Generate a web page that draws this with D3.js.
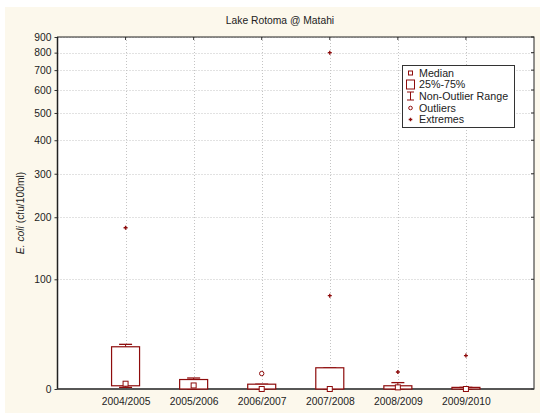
<!DOCTYPE html>
<html>
<head>
<meta charset="utf-8">
<script src="https://cdn.jsdelivr.net/npm/d3@7"></script>
<style>
  html, body { margin: 0; padding: 0; background: #ffffff; }
  svg { display: block; font-family: "Liberation Sans", Arial, sans-serif; }
</style>
</head>
<body>
<svg id="chart" width="540" height="413"></svg>
<script>
// E. coli counts per season (cfu/100ml)
const categories = ["2004/2005", "2005/2006", "2006/2007", "2007/2008", "2008/2009", "2009/2010"];
const whiskerLow  = [1, 0, 0, 0, 0, 0];
const q1          = [2, 0, 0, 0, 0, 0];
const medians     = [3.3, 2.2, 0, 0, 1, 0];
const q3          = [30, 6, 3, 14, 2, 1];
const whiskerHigh = [32, 7, 3, 14, 4, 1];
const outliers    = [[], [], [10], [], [], []];
const extremes    = [[180], [], [], [80, 800], [11], [23]];
const yTicks      = [0, 100, 200, 300, 400, 500, 600, 700, 800, 900];
const legendItems = ["Median", "25%-75%", "Non-Outlier Range", "Outliers", "Extremes"];

const RED = "#8e0c0c";
const svg = d3.select("#chart");

// panel background
svg.append("rect").attr("x", 5).attr("y", 7).attr("width", 535).attr("height", 406).attr("fill", "#fcf8ec");

const plot = { left: 57.5, right: 534, top: 37, bottom: 389 };
svg.append("rect").attr("x", plot.left).attr("y", plot.top)
  .attr("width", plot.right - plot.left).attr("height", plot.bottom - plot.top).attr("fill", "#ffffff");

const x = d3.scalePoint().domain(categories).range([plot.left, plot.right]).padding(1);
const y = d3.scaleSymlog().constant(90).domain([0, 900]).range([plot.bottom, plot.top]);

// dotted grid
const grid = svg.append("g").attr("stroke", "#c4c4c4").attr("stroke-width", 1).attr("stroke-dasharray", "1,2");
grid.selectAll(".gy").data(yTicks.slice(1)).join("line")
  .attr("x1", plot.left).attr("x2", plot.right)
  .attr("y1", d => Math.round(y(d)) + 0.5).attr("y2", d => Math.round(y(d)) + 0.5);
grid.selectAll(".gx").data(categories).join("line")
  .attr("x1", d => Math.round(x(d)) + 0.5).attr("x2", d => Math.round(x(d)) + 0.5)
  .attr("y1", plot.top).attr("y2", plot.bottom);

// title
svg.append("text").attr("x", 280).attr("y", 24).attr("text-anchor", "middle")
  .attr("font-size", 10.3).attr("fill", "#222").text("Lake Rotoma @ Matahi");

// axes
const yAxis = d3.axisLeft(y).tickValues(yTicks).tickSize(3).tickPadding(3).tickFormat(d3.format("d"));
const gy = svg.append("g").attr("transform", `translate(${plot.left},0)`).call(yAxis);
gy.select(".domain").remove();
gy.selectAll("text").attr("font-size", 10.3).attr("fill", "#222").attr("font-family", "Liberation Sans, Arial, sans-serif");
gy.selectAll("line").attr("stroke", "#333");

const xAxis = d3.axisBottom(x).tickSize(0).tickPadding(9);
const gx = svg.append("g").attr("transform", `translate(0,${plot.bottom})`).call(xAxis);
gx.select(".domain").remove();
gx.selectAll("text").attr("font-size", 10.3).attr("fill", "#222").attr("font-family", "Liberation Sans, Arial, sans-serif");

// inner ticks on top and right edges
svg.append("g").selectAll("line").data(categories).join("line")
  .attr("x1", d => x(d)).attr("x2", d => x(d)).attr("y1", plot.top).attr("y2", plot.top + 3)
  .attr("stroke", "#333");
svg.append("g").selectAll("line").data(yTicks).join("line")
  .attr("x1", plot.right).attr("x2", plot.right - 3).attr("y1", d => y(d)).attr("y2", d => y(d))
  .attr("stroke", "#333");

// frame
svg.append("rect").attr("x", plot.left).attr("y", plot.top)
  .attr("width", plot.right - plot.left).attr("height", plot.bottom - plot.top)
  .attr("fill", "none").attr("stroke", "#222").attr("stroke-width", 1);
svg.append("line").attr("x1", plot.left).attr("x2", plot.left).attr("y1", plot.top).attr("y2", plot.bottom)
  .attr("stroke", "#222").attr("stroke-width", 1.5);
svg.append("line").attr("x1", plot.left).attr("x2", plot.right).attr("y1", plot.bottom).attr("y2", plot.bottom)
  .attr("stroke", "#444").attr("stroke-width", 1.5);

// y label
const yl = svg.append("text").attr("transform", `translate(24,213) rotate(-90)`)
  .attr("text-anchor", "middle").attr("font-size", 10.3).attr("fill", "#222");
yl.append("tspan").attr("font-style", "italic").text("E. coli");
yl.append("tspan").text(" (cfu/100ml)");

// boxes
const boxW = 28, capW = 13;
const marks = svg.append("g");
categories.forEach((c, i) => {
  const cx = x(c);
  // whiskers
  marks.append("line").attr("x1", cx).attr("x2", cx).attr("y1", y(q3[i])).attr("y2", y(whiskerHigh[i]))
    .attr("stroke", RED).attr("stroke-width", 1);
  marks.append("line").attr("x1", cx - capW / 2).attr("x2", cx + capW / 2)
    .attr("y1", y(whiskerHigh[i])).attr("y2", y(whiskerHigh[i])).attr("stroke", RED).attr("stroke-width", 1.3);
  marks.append("line").attr("x1", cx).attr("x2", cx).attr("y1", y(q1[i])).attr("y2", y(whiskerLow[i]))
    .attr("stroke", RED).attr("stroke-width", 1);
  marks.append("line").attr("x1", cx - capW / 2).attr("x2", cx + capW / 2)
    .attr("y1", y(whiskerLow[i])).attr("y2", y(whiskerLow[i])).attr("stroke", RED).attr("stroke-width", 1.3);
  // box
  marks.append("rect").attr("x", cx - boxW / 2).attr("y", y(q3[i]))
    .attr("width", boxW).attr("height", Math.max(1, y(q1[i]) - y(q3[i])))
    .attr("fill", "#ffffff").attr("stroke", RED).attr("stroke-width", 1.2);
  // median
  marks.append("rect").attr("x", cx - 2.5).attr("y", y(medians[i]) - 2.5).attr("width", 5).attr("height", 5)
    .attr("fill", "#ffffff").attr("stroke", RED).attr("stroke-width", 1);
  // outliers
  outliers[i].forEach(v => {
    marks.append("circle").attr("cx", cx).attr("cy", y(v)).attr("r", 2.2)
      .attr("fill", "#ffffff").attr("stroke", RED).attr("stroke-width", 1);
  });
  // extremes
  extremes[i].forEach(v => {
    marks.append("path").attr("d", `M${cx - 2},${y(v)}H${cx + 2}M${cx},${y(v) - 2}V${y(v) + 2}`)
      .attr("stroke", RED).attr("stroke-width", 1.4);
  });
});

// legend
const lg = svg.append("g");
lg.append("rect").attr("x", 402.5).attr("y", 65.5).attr("width", 112).attr("height", 62)
  .attr("fill", "#ffffff").attr("stroke", "#333").attr("stroke-width", 1);
const lx = 410.5, rowY = [73, 84.5, 96, 108, 119.5];
lg.selectAll("text").data(legendItems).join("text")
  .attr("x", 419).attr("y", (d, i) => rowY[i] + 3.8).attr("font-size", 10.7).attr("fill", "#222").text(d => d);
lg.append("rect").attr("x", lx - 2).attr("y", rowY[0] - 2).attr("width", 4).attr("height", 4)
  .attr("fill", "#fff").attr("stroke", RED).attr("stroke-width", 1);
lg.append("rect").attr("x", lx - 4).attr("y", rowY[1] - 4.5).attr("width", 8).attr("height", 9)
  .attr("fill", "#fff").attr("stroke", RED).attr("stroke-width", 1);
lg.append("path").attr("d", `M${lx - 3.5},${rowY[2] - 4}H${lx + 3.5}M${lx},${rowY[2] - 4}V${rowY[2] + 4}M${lx - 3.5},${rowY[2] + 4}H${lx + 3.5}`)
  .attr("stroke", RED).attr("stroke-width", 1).attr("fill", "none");
lg.append("circle").attr("cx", lx).attr("cy", rowY[3]).attr("r", 1.8)
  .attr("fill", "#fff").attr("stroke", RED).attr("stroke-width", 1);
lg.append("path").attr("d", `M${lx - 1.8},${rowY[4]}H${lx + 1.8}M${lx},${rowY[4] - 1.8}V${rowY[4] + 1.8}`)
  .attr("stroke", RED).attr("stroke-width", 1.3);
</script>
</body>
</html>
